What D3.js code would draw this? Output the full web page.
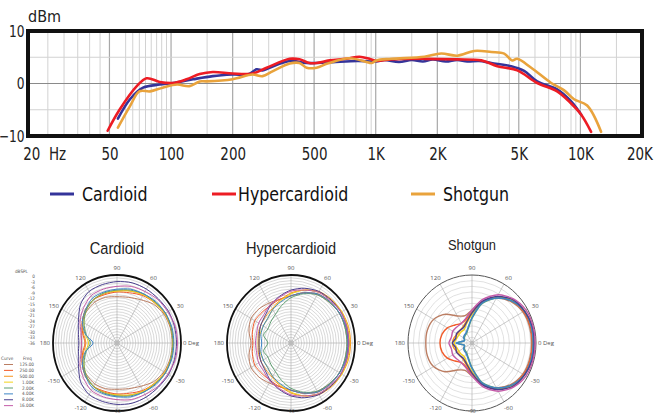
<!DOCTYPE html>
<html>
<head>
<meta charset="utf-8">
<script src="https://cdn.jsdelivr.net/npm/d3@7"></script>
<style>
body{margin:0;background:#fff}
svg{display:block}
text{font-family:"Liberation Sans Narrow","DejaVu Sans Condensed","Open Sans",sans-serif}
</style>
</head>
<body>
<svg id="chart" width="655" height="414"></svg>
<script>
// ---- frequency response data ----
const freqTicks = [20,50,100,200,500,1000,2000,5000,10000,20000]
const freqLabels = ['20  Hz','50','100','200','500','1K','2K','5K','10K','20K']
const minorFreqs = [25,30,35,40,45,60,65,70,75,80,85,90,95,150,250,300,350,400,450,600,700,800,900,950,1500,2500,3000,3500,4000,4500,6000,7000,8000,9000,9500,15000]
const dbTicks = [10,0,-10]
const seriesNames = ['Cardioid','Hypercardioid','Shotgun']
const seriesColors = ['#34349a','#ed1c24','#e9a33c']

const cardioidFreq = [55,63,73,88,102,128,160,200,240,262,280,303,380,460,581,815,1000,1100,1300,1500,1700,1900,2200,2500,2800,3200,3670,4590,5310,6150,7700,9010,10080]
const cardioidDb   = [-6.7,-3,-0.8,-0.2,0.1,0.8,1.4,1.7,1.8,2.7,2.5,3.0,4.3,3.9,4.0,4.3,4.2,4.5,4.1,4.5,4.2,4.6,4.2,4.5,4.2,4.3,3.9,3.3,2.4,0.4,-1.1,-3.4,-5.9]

const hyperFreq = [49,56,68,76,88,102,119,138,160,200,250,293,380,424,475,514,595,717,833,932,1008,1190,1730,2506,3280,3925,4912,6150,7700,9010,10080,11280]
const hyperDb   = [-9,-5,-0.5,1.0,0.3,0.1,0.8,1.8,2.2,1.9,1.9,3.0,4.7,4.6,3.9,3.9,4.4,4.7,5.1,4.7,4.3,4.6,4.7,4.6,4.4,3.3,2.5,0.1,-1.5,-3.8,-5.9,-9.2]

const shotgunFreq = [55,63,70,79,91,107,123,138,149,200,250,280,313,380,424,460,514,581,745,901,953,1008,1190,1730,2090,2506,3030,3670,4244,4645,4912,5750,7200,8330,9310,10790,12620]
const shotgunDb   = [-8.4,-4.3,-1.5,-1.5,-0.8,-0.2,-0.5,0.4,0.4,0.8,1.7,1.4,2.3,3.8,3.9,3.0,3.0,3.8,4.8,4.1,3.9,4.4,4.7,5.1,5.7,5.3,6.2,6.0,5.7,4.4,4.7,3.0,0.1,-1.3,-3.0,-4.2,-9.2]

// ---- polar data (dBSPL, angles 0..180, mirrored) ----
const polarAngles = [0,15,30,45,60,75,90,105,120,135,150,165,180]
const polarFreqLabels = ['125.00','250.00','500.00','1.00K','2.00K','4.00K','8.00K','16.00K']
const polarColors = ['#bb7d62','#f15a29','#f7941d','#f2d21b','#5f9e72','#3d85c6','#4a3f8f','#c45ca8']
const dbsplTicks = [0,-3,-6,-9,-12,-15,-18,-21,-24,-27,-30,-33,-36]
const angleLabels = [90,60,30,0,-30,-60,-90,-120,-150,180,150,120]
const polarTitles = ['Cardioid','Hypercardioid','Shotgun']

const polarCardioid = [
  [-5,-5,-5.5,-7,-9.5,-11,-11.5,-11,-11,-12,-13.5,-15.5,-16],
  [-4.5,-4.5,-5,-6,-7,-8.5,-9,-9.5,-9.5,-11,-13.5,-16,-18],
  [-4.5,-4.5,-4.5,-5.5,-6.5,-7.5,-8.5,-9,-9.5,-11,-13.5,-16.5,-18.5],
  [-4.5,-4.5,-5,-6,-6.5,-7.5,-8.5,-8.5,-9.5,-11.5,-14.5,-17.5,-20],
  [-4.5,-4.5,-4.5,-5.5,-6,-7,-8,-8.5,-9.5,-11.5,-14.5,-18,-21],
  [-4,-4,-4.5,-5,-6,-6.5,-7.5,-8,-8.5,-11,-13.5,-17.5,-22.5],
  [-2.5,-2.5,-2.5,-3,-3,-3,-3.5,-4,-4.5,-7,-11,-13.5,-14.5],
  [-2,-2,-3,-3.5,-4.5,-5,-6,-6.5,-7,-9.5,-12,-15,-16]
]
const polarHyper = [
  [-4.5,-4.5,-4.5,-5.5,-6.5,-8.5,-11,-12,-11.5,-10.5,-10,-11.5,-13.5],
  [-4,-4,-4.5,-5,-6,-8.5,-11,-12,-13,-13,-12.5,-13.5,-14.5],
  [-2.5,-2.5,-3,-3.5,-4.5,-7,-9.5,-12.5,-15,-16,-16.5,-17,-17.5],
  [-3,-3,-3,-4,-5,-7,-10,-13,-15.5,-17.5,-18,-18,-18],
  [-4.5,-4.5,-4.5,-5.5,-6.5,-9,-12,-15.5,-18.5,-20,-21,-20,-23],
  [-4,-4,-4.5,-5,-6,-8.5,-11,-13.5,-15.5,-17.5,-18,-18.5,-19.5],
  [-3.5,-3.5,-3.5,-4,-4.5,-6,-8,-10.5,-13,-15.5,-16.5,-17.5,-18],
  [-3.5,-3.5,-3.5,-4.5,-5,-7,-8.5,-11,-12.5,-14.5,-15,-16,-16]
]
const polarShotgun = [
  [-2.5,-2.5,-3,-5,-8.5,-13.5,-18.5,-21,-19.5,-14.5,-11,-10,-10],
  [-2,-2,-2.5,-4.5,-8.5,-13.5,-19.5,-23,-24,-22.5,-20,-18.5,-18],
  [-1,-1,-2,-4,-8,-13.5,-20,-24,-26,-26.5,-26.5,-25.5,-25],
  [-1,-1,-2,-4,-8,-13.5,-21,-25,-27.5,-27.5,-27.5,-27,-26],
  [-1.5,-1.5,-2,-4.5,-8.5,-14.5,-23,-28,-30,-30.5,-31,-31.5,-27.5],
  [-1.5,-1.5,-2,-4.5,-8.5,-14,-22.5,-27.5,-29.5,-30,-30.5,-31.5,-27],
  [-1,-1,-2,-3.5,-7.5,-13,-20,-24.5,-26.5,-26.5,-26,-26.5,-25],
  [-0.5,-0.5,-1,-3,-6.5,-12,-18.5,-22.5,-24,-24,-23.5,-24,-23]
]

const svg = d3.select('#chart')

// narrow text: the original uses a condensed face
function narrow(sel, sx){
  sel.each(function(){
    let t = d3.select(this)
    let x0 = +t.attr('x') || 0, y0 = +t.attr('y') || 0
    t.attr('x', 0).attr('y', 0)
     .attr('transform', 'translate(' + x0 + ',' + y0 + ') scale(' + sx + ',1)')
  })
}

// ================= frequency response =================
let plot = {left:28, right:642, top:31, bottom:136}

let x = d3.scaleLog().domain([20,20000]).range([plot.left, plot.right])
let y = d3.scaleLinear().domain([-10,10]).range([plot.bottom, plot.top])

let grid = svg.append('g')
grid.selectAll('.minor')
    .data(minorFreqs)
    .enter().append('line')
    .attr('x1', d => x(d)).attr('x2', d => x(d))
    .attr('y1', plot.top).attr('y2', plot.bottom)
    .attr('stroke', '#d2d2d2').attr('stroke-width', 1)
grid.selectAll('.major')
    .data(freqTicks.slice(1, -1))
    .enter().append('line')
    .attr('x1', d => x(d)).attr('x2', d => x(d))
    .attr('y1', plot.top).attr('y2', plot.bottom)
    .attr('stroke', '#a8a8a8').attr('stroke-width', 1.2)
grid.selectAll('.hgrid')
    .data([5, -5])
    .enter().append('line')
    .attr('x1', plot.left).attr('x2', plot.right)
    .attr('y1', d => y(d)).attr('y2', d => y(d))
    .attr('stroke', '#d2d2d2').attr('stroke-width', 1)
grid.append('line')
    .attr('x1', plot.left).attr('x2', plot.right)
    .attr('y1', y(0)).attr('y2', y(0))
    .attr('stroke', '#8a8a8a').attr('stroke-width', 1.2)

let xAxis = d3.axisBottom(x)
    .tickValues(freqTicks)
    .tickFormat((d, i) => freqLabels[i])
    .tickSize(0)
    .tickPadding(12)
let xg = svg.append('g')
    .attr('transform', 'translate(0,' + plot.bottom + ')')
    .call(xAxis)
xg.select('.domain').remove()
xg.selectAll('text')
    .attr('font-size', 17).attr('fill', '#222')
    .style('font-family', '"Liberation Sans Narrow","DejaVu Sans Condensed",sans-serif')
    .attr('transform', 'scale(0.88,1)')
xg.selectAll('.tick').filter(d => d === 20).select('text')
    .attr('text-anchor', 'start').attr('x', -6).style('white-space', 'pre')
xg.selectAll('.tick').filter(d => d === 20000).select('text')
    .attr('x', -3)

let yAxis = d3.axisLeft(y).tickValues(dbTicks).tickSize(0).tickPadding(4)
let yg = svg.append('g')
    .attr('transform', 'translate(' + plot.left + ',0)')
    .call(yAxis)
yg.select('.domain').remove()
yg.selectAll('text').attr('font-size', 16).attr('fill', '#222')
    .attr('transform', 'scale(0.85,1)')

svg.append('text')
    .attr('x', 28).attr('y', 22)
    .attr('font-size', 16).attr('fill', '#222')
    .text('dBm')

let line = d3.line()
    .x(d => x(d[0]))
    .y(d => y(d[1]))
    .curve(d3.curveCatmullRom.alpha(0.5))

let seriesData = [
  d3.zip(cardioidFreq, cardioidDb),
  d3.zip(hyperFreq, hyperDb),
  d3.zip(shotgunFreq, shotgunDb)
]
svg.append('g').selectAll('path')
    .data(seriesData)
    .enter().append('path')
    .attr('d', line)
    .attr('fill', 'none')
    .attr('stroke', (d, i) => seriesColors[i])
    .attr('stroke-width', 2.6)
    .attr('stroke-linejoin', 'round')
    .attr('stroke-linecap', 'round')

svg.append('rect')
    .attr('x', plot.left).attr('y', plot.top)
    .attr('width', plot.right - plot.left).attr('height', plot.bottom - plot.top)
    .attr('fill', 'none').attr('stroke', '#111').attr('stroke-width', 4)

// legend
let legendX = [50, 212, 411]
let lg = svg.append('g').selectAll('g')
    .data(seriesNames)
    .enter().append('g')
    .attr('transform', (d, i) => 'translate(' + legendX[i] + ',194)')
lg.append('line')
    .attr('x1', 0).attr('x2', 24)
    .attr('stroke', (d, i) => seriesColors[i]).attr('stroke-width', 3)
lg.append('text')
    .attr('x', (d, i) => i === 1 ? 26 : 32).attr('y', 7)
    .attr('font-size', 20).attr('fill', '#111')
    .text(d => d)
    .call(narrow, 0.88)

// ================= polar plots =================
let polarCenters = [117, 291, 472]
let polarData = [polarCardioid, polarHyper, polarShotgun]
let cy = 343, rx = 64, ry = 68
let r = d3.scaleLinear().domain([-36, 0]).range([0, 1])

let allAngles = polarAngles.concat(polarAngles.slice(1, -1).reverse().map(a => 360 - a))

polarCenters.forEach((cx, p) => {
  let g = svg.append('g')
  let inner = g.append('g').attr('transform', 'translate(' + cx + ',' + cy + ') scale(' + rx + ',' + ry + ')')
  let shot = p === 2
  let ringStep = shot ? 3 : 1.5
  let rings = d3.range(-36 + ringStep, 0, ringStep)
  inner.selectAll('.ring')
      .data(rings)
      .enter().append('circle')
      .attr('r', d => r(d))
      .attr('fill', 'none')
      .attr('stroke', shot ? '#cdcdcd' : '#bdbdbd')
      .attr('vector-effect', 'non-scaling-stroke')
      .attr('stroke-width', 0.6)
  inner.selectAll('.spoke')
      .data(d3.range(0, 360, 30))
      .enter().append('line')
      .attr('x1', 0).attr('y1', 0)
      .attr('x2', d => Math.cos(d * Math.PI / 180))
      .attr('y2', d => -Math.sin(d * Math.PI / 180))
      .attr('stroke', '#a8a8a8')
      .attr('vector-effect', 'non-scaling-stroke')
      .attr('stroke-width', 0.6)
  inner.append('circle').attr('r', 1)
      .attr('fill', 'none')
      .attr('stroke', shot ? '#555' : '#111')
      .attr('vector-effect', 'non-scaling-stroke')
      .attr('stroke-width', shot ? 1 : 1.8)

  let radial = d3.lineRadial()
      .angle(d => (90 - d[0]) * Math.PI / 180)
      .radius(d => r(d[1]))
      .curve(d3.curveCardinalClosed.tension(0.2))

  polarData[p].forEach((vals, k) => {
    let pts = allAngles.map(a => [a, vals[polarAngles.indexOf(a <= 180 ? a : 360 - a)]])
    inner.append('path')
        .attr('d', radial(pts))
        .attr('fill', 'none')
        .attr('stroke', polarColors[k])
        .attr('vector-effect', 'non-scaling-stroke')
        .attr('stroke-width', shot ? 1.4 : 1)
  })
  g.append('circle').attr('cx', cx).attr('cy', cy).attr('r', 2.2).attr('fill', '#bbb')

  // angle labels
  angleLabels.forEach(a => {
    let rad = a * Math.PI / 180
    let lx = cx + (rx + 9) * Math.cos(rad)
    let ly = cy - (ry + 7) * Math.sin(rad) + 2
    let label = a === 0 ? '0 Deg' : String(a)
    let anchor = 'middle'
    if (a === 0) { lx = cx + rx + 2; anchor = 'start' }
    if (a === 180) { lx = cx - rx - 3; anchor = 'end' }
    if (a === -90) { ly = 412.5 }
    g.append('text')
        .attr('x', lx).attr('y', ly)
        .attr('text-anchor', anchor)
        .attr('font-size', a === -90 ? 5 : 6).attr('fill', '#555')
        .style('font-family', '"Open Sans",sans-serif')
        .text(label)
  })

  g.append('text')
      .attr('x', cx).attr('y', shot ? 250 : 254)
      .attr('text-anchor', 'middle')
      .attr('font-size', shot ? 14 : 17).attr('fill', '#222')
      .style('font-family', '"Liberation Sans","Open Sans",sans-serif')
      .text(polarTitles[p])
      .call(narrow, shot ? 0.92 : 0.86)
})

// small dBSPL legend
let sl = svg.append('g')
    .style('font-family', '"Open Sans",sans-serif')
    .attr('font-size', 4.6).attr('fill', '#555')
sl.append('text').attr('x', 15).attr('y', 273).text('dBSPL')
let tickY = d3.scaleLinear().domain([0, -36]).range([278, 345])
sl.selectAll('.v')
    .data(dbsplTicks)
    .enter().append('text')
    .attr('x', 35).attr('y', d => tickY(d))
    .attr('text-anchor', 'end')
    .text(d => d)
sl.append('text').attr('x', 1).attr('y', 360).text('Curve')
sl.append('text').attr('x', 23).attr('y', 360).text('Freq')
let rowY = d3.scaleBand().domain(polarFreqLabels).range([362, 409])
polarFreqLabels.forEach((f, k) => {
  sl.append('line')
      .attr('x1', 4).attr('x2', 13)
      .attr('y1', rowY(f) + 2.5).attr('y2', rowY(f) + 2.5)
      .attr('stroke', polarColors[k]).attr('stroke-width', 1)
  sl.append('text')
      .attr('x', 34).attr('y', rowY(f) + 4)
      .attr('text-anchor', 'end')
      .text(f)
})
</script>
</body>
</html>
